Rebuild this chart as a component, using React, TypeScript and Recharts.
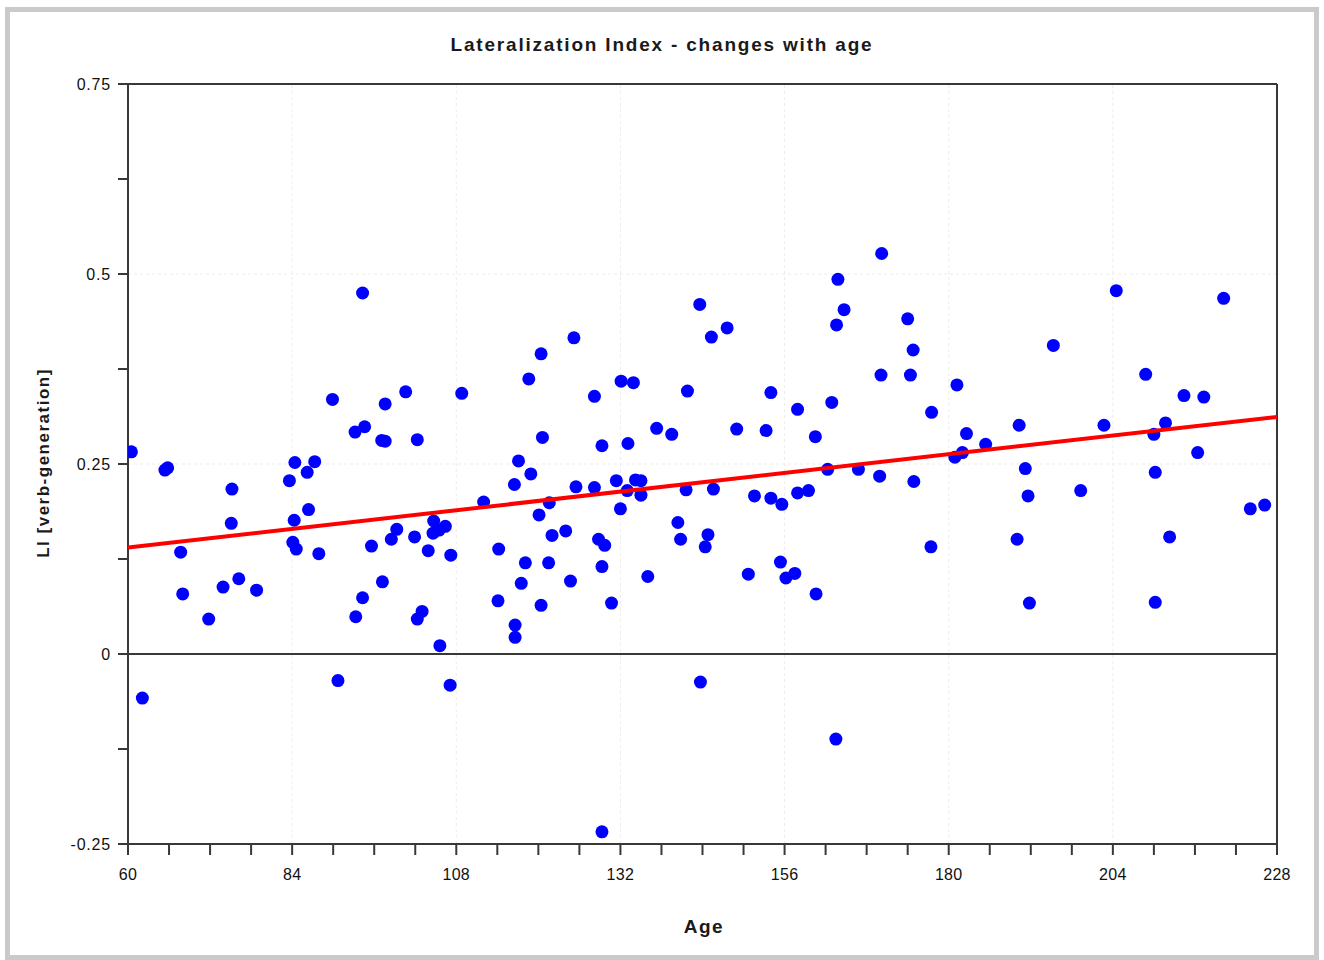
import React from 'react';
import { ScatterChart, Scatter, XAxis, YAxis, ReferenceLine } from 'recharts';

// age in months, LI
const AGES = [
  60.5, 62.1, 65.4, 65.8, 67.7, 68.0, 71.8, 73.9, 75.2, 75.1, 76.2, 78.8,
  83.6, 84.4, 84.3, 84.1, 84.6, 86.2, 86.4, 87.3, 87.9, 89.9, 90.7, 93.3,
  93.2, 94.6, 94.3, 94.3, 95.6, 97.2, 97.1, 97.6, 97.6, 98.5, 99.3, 100.6,
  101.9, 102.3, 102.3, 103.0, 103.9, 104.7, 104.6, 105.5, 106.4, 105.6, 107.2, 107.1,
  108.8, 112.0, 114.2, 114.1, 116.5, 117.1, 118.9, 116.6, 116.6, 117.5, 118.1, 118.6,
  120.4, 120.6, 120.1, 121.6, 120.4, 121.5, 122.0, 124.0, 124.7, 125.2, 125.5, 128.2,
  128.2, 128.8, 129.7, 129.3, 129.3, 129.3, 130.7, 131.4, 132.0, 132.1, 133.1, 133.9,
  134.2, 135.0, 133.0, 135.0, 136.0, 137.3, 139.5, 140.4, 140.8, 141.8, 141.6, 143.6,
  143.7, 144.8, 144.4, 145.3, 145.6, 147.6, 149.0, 150.7, 151.6, 153.3, 154.0, 154.0,
  155.6, 155.4, 156.2, 157.5, 157.9, 157.9, 159.5, 160.5, 160.6, 162.3, 162.9, 163.5,
  163.8, 163.6, 164.7, 166.8, 169.9, 170.2, 170.1, 174.0, 174.4, 174.8, 174.9, 177.4,
  177.5, 180.9, 182.0, 181.2, 182.6, 185.4, 190.0, 190.3, 191.2, 191.6, 191.8, 195.3,
  199.3, 202.7, 204.5, 208.8, 210.0, 210.2, 210.2, 211.7, 212.3, 214.4, 216.4, 217.3,
  220.2, 224.1, 226.2,
];

const LI_VALUES = [
  0.266, -0.058, 0.242, 0.245, 0.134, 0.079, 0.046, 0.088, 0.217, 0.172, 0.099, 0.084,
  0.228, 0.252, 0.176, 0.147, 0.138, 0.239, 0.19, 0.253, 0.132, 0.335, -0.035, 0.049,
  0.292, 0.299, 0.475, 0.074, 0.142, 0.095, 0.281, 0.28, 0.329, 0.151, 0.164, 0.345,
  0.154, 0.282, 0.046, 0.056, 0.136, 0.175, 0.159, 0.163, 0.168, 0.011, 0.13, -0.041,
  0.343, 0.2, 0.138, 0.07, 0.223, 0.254, 0.237, 0.038, 0.022, 0.093, 0.12, 0.362,
  0.395, 0.285, 0.183, 0.199, 0.064, 0.12, 0.156, 0.162, 0.096, 0.416, 0.22, 0.339,
  0.219, 0.151, 0.143, 0.115, 0.274, -0.234, 0.067, 0.228, 0.191, 0.359, 0.277, 0.357,
  0.229, 0.228, 0.215, 0.209, 0.102, 0.297, 0.289, 0.173, 0.151, 0.346, 0.216, 0.46,
  -0.037, 0.157, 0.141, 0.417, 0.217, 0.429, 0.296, 0.105, 0.208, 0.294, 0.344, 0.205,
  0.197, 0.121, 0.1, 0.106, 0.322, 0.212, 0.215, 0.286, 0.079, 0.243, 0.331, -0.112,
  0.493, 0.433, 0.453, 0.243, 0.234, 0.527, 0.367, 0.441, 0.367, 0.4, 0.227, 0.141,
  0.318, 0.259, 0.265, 0.354, 0.29, 0.276, 0.151, 0.301, 0.244, 0.208, 0.067, 0.406,
  0.215, 0.301, 0.478, 0.368, 0.289, 0.239, 0.068, 0.304, 0.154, 0.34, 0.265, 0.338,
  0.468, 0.191, 0.196,
];

const TREND_AGES = [60, 228];
const TREND_LI = [0.14, 0.312];

const X_TICKS = [
  60, 66, 72, 78, 84, 90, 96, 102, 108, 114, 120, 126, 132, 138, 144,
  150, 156, 162, 168, 174, 180, 186, 192, 198, 204, 210, 216, 222, 228,
];
const X_LABELS = [60, 84, 108, 132, 156, 180, 204, 228];
const Y_TICKS = [-0.25, -0.125, 0, 0.125, 0.25, 0.375, 0.5, 0.625, 0.75];
const Y_LABELS = [-0.25, 0, 0.25, 0.5, 0.75];
const GRID_X = [84, 108, 132, 156, 180, 204];
const GRID_Y = [0.25, 0.5];

const points = AGES.map((age, i) => ({ age, li: LI_VALUES[i] }));
const trend = TREND_AGES.map((age, i) => ({ age, li: TREND_LI[i] }));

const FONT = '"Liberation Sans", Arial, sans-serif';
const AXIS_STROKE = '#383838';

function XTick({ x, y, payload }: any) {
  if (!X_LABELS.includes(payload.value)) return <g />;
  return (
    <text x={x} y={y} dy={21} textAnchor="middle" fontSize={16} fontFamily={FONT} fill="#111" letterSpacing={0.3}>
      {payload.value}
    </text>
  );
}

function YTick({ x, y, payload }: any) {
  if (!Y_LABELS.includes(payload.value)) return <g />;
  return (
    <text x={x} y={y} dy={6} textAnchor="end" fontSize={16} fontFamily={FONT} fill="#111" letterSpacing={0.8}>
      {String(payload.value)}
    </text>
  );
}

const Dot = (props: any) => <circle cx={props.cx} cy={props.cy} r={6.5} fill="#0000ff" />;
const NoDot = () => <g />;

export default function App() {
  return (
    <div style={{ position: 'absolute', left: 0, top: 0, width: 1324, height: 960, background: '#fff', fontFamily: FONT }}>
      <div style={{ position: 'absolute', left: 5, top: 7, width: 1314, height: 953, border: '5px solid #cacaca', boxSizing: 'border-box' }} />
      <div style={{ position: 'absolute', left: 0, top: 34, width: 1324, textAlign: 'center', fontSize: 19, fontWeight: 'bold', letterSpacing: 1.8, lineHeight: '22px', color: '#1a1a1a' }}>
        Lateralization Index - changes with age
      </div>
      <div style={{ position: 'absolute', left: 44, top: 463, transform: 'translate(-50%, -50%) rotate(-90deg)', whiteSpace: 'nowrap', fontSize: 17, fontWeight: 'bold', letterSpacing: 1.5, color: '#1a1a1a' }}>
        LI [verb-generation]
      </div>
      <div style={{ position: 'absolute', left: 704, top: 927, transform: 'translate(-50%, -50%)', fontSize: 19, fontWeight: 'bold', letterSpacing: 1.5, color: '#1a1a1a' }}>
        Age
      </div>
      <div style={{ position: 'absolute', left: 0, top: 0 }}>
        <ScatterChart width={1324} height={960} margin={{ top: 84, right: 47, bottom: 56, left: 68 }}>
          <XAxis
            type="number"
            dataKey="age"
            domain={[60, 228]}
            ticks={X_TICKS}
            interval={0}
            height={60}
            tickSize={11}
            tickMargin={4}
            tick={<XTick />}
            axisLine={{ stroke: AXIS_STROKE, strokeWidth: 2 }}
            tickLine={{ stroke: AXIS_STROKE, strokeWidth: 2 }}
            allowDataOverflow
          />
          <YAxis
            type="number"
            dataKey="li"
            domain={[-0.25, 0.75]}
            ticks={Y_TICKS}
            interval={0}
            width={60}
            tickSize={10}
            tickMargin={7}
            tick={<YTick />}
            axisLine={{ stroke: AXIS_STROKE, strokeWidth: 2 }}
            tickLine={{ stroke: AXIS_STROKE, strokeWidth: 2 }}
            allowDataOverflow
          />
          {GRID_X.map(v => (
            <ReferenceLine key={'gx' + v} x={v} stroke="#ececec" strokeDasharray="3 3" />
          ))}
          {GRID_Y.map(v => (
            <ReferenceLine key={'gy' + v} y={v} stroke="#ececec" strokeDasharray="3 3" />
          ))}
          <ReferenceLine y={0} stroke={AXIS_STROKE} strokeWidth={2} />
          <ReferenceLine y={0.75} stroke={AXIS_STROKE} strokeWidth={2} />
          <ReferenceLine x={228} stroke={AXIS_STROKE} strokeWidth={2} />
          <Scatter data={points} shape={Dot} isAnimationActive={false} />
          <Scatter data={trend} shape={NoDot} line={{ stroke: '#ff0000', strokeWidth: 4 }} isAnimationActive={false} />
        </ScatterChart>
      </div>
    </div>
  );
}
